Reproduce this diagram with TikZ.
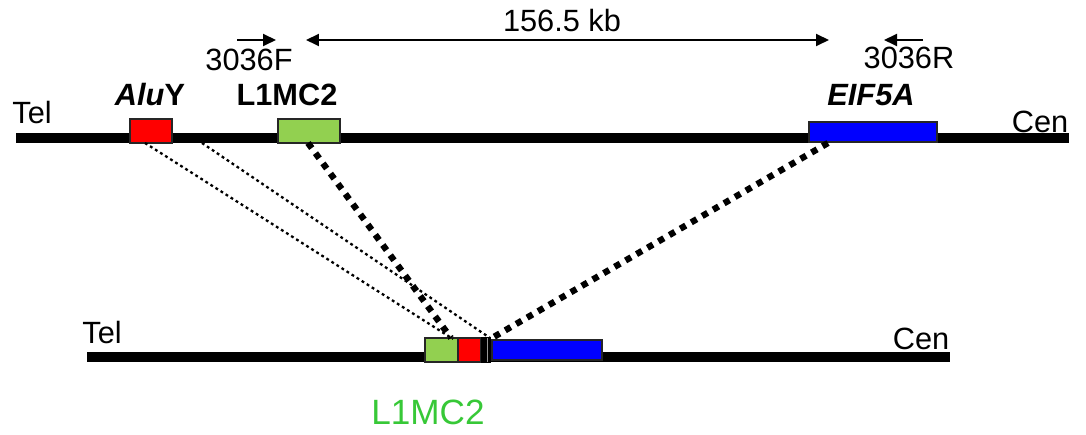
\documentclass[tikz,border=0pt]{standalone}
\usepackage{fontspec}
\setmainfont{Liberation Sans}
\usetikzlibrary{arrows.meta}

\definecolor{aluRed}{RGB}{255,0,0}
\definecolor{lineGreen}{RGB}{146,208,80}
\definecolor{eifBlue}{RGB}{0,0,255}
\definecolor{labelGreen}{RGB}{55,200,55}

\tikzset{
  gene/.style      = {draw=black!85, line width=0.9pt, inner sep=0pt, outer sep=0pt},
  chrom/.style     = {line width=0.2cm},
  label/.style     = {font=\fontsize{17.5}{20}\selectfont, inner sep=0pt},
  boldlabel/.style = {label, font=\fontsize{17.5}{20}\selectfont\bfseries},
  primer/.style    = {line width=1.1pt, -{Triangle[length=0.26cm, width=0.24cm]}},
  thinlink/.style  = {line width=1.3pt, dash pattern=on 1.6pt off 1.8pt},
  thicklink/.style = {line width=3.6pt, dash pattern=on 3.6pt off 3.6pt}
}

\begin{document}
\begin{tikzpicture}[x=0.02cm, y=-0.02cm]
\useasboundingbox (0,0) rectangle (1086,435);

% chromosomes
\coordinate (telA) at (16,138);
\coordinate (cenA) at (1069,138);
\coordinate (telB) at (87,357);
\coordinate (cenB) at (950,357);
\draw[chrom] (telA) -- (cenA);
\draw[chrom] (telB) -- (cenB);

% genes, upper
\node[gene, fill=aluRed, minimum width=0.84cm, minimum height=0.48cm] (aluA) at (151,131) {};
\node[gene, fill=lineGreen, minimum width=1.24cm, minimum height=0.48cm] (lineA) at (309,131) {};
\node[gene, fill=eifBlue, minimum width=2.56cm, minimum height=0.4cm] (eifA) at (873,132) {};

% genes, lower
\node[gene, fill=lineGreen, minimum width=0.66cm, minimum height=0.48cm] (lineB) at (441.5,350) {};
\node[gene, fill=aluRed, minimum width=0.46cm, minimum height=0.48cm] (aluB) at (469.5,350) {};
\node[gene, draw=black, fill=black, minimum width=0.16cm, minimum height=0.48cm] (joint) at (486,350) {};
\draw[black!40, line width=0.4pt] ([xshift=0.5pt]joint.north) -- ([xshift=0.5pt]joint.south);
\node[gene, fill=eifBlue, minimum width=2.2cm, minimum height=0.4cm] (eifB) at (547,350) {};

% link ends
\coordinate (aluOut) at (145,143);
\coordinate (aluIn) at (202,143);
\coordinate (lineTop) at (308,143);
\coordinate (eifTop) at (828,143);
\coordinate (aluOutB) at (453,339);
\coordinate (aluInB) at (490,338);
\coordinate (lineBot) at (451,338);
\coordinate (eifBot) at (492,338);

\draw[thinlink] (aluOut) -- (aluOutB);
\draw[thinlink] (aluIn) -- (aluInB);
\draw[thicklink] (lineTop) -- (lineBot);
\draw[thicklink] (eifTop) -- (eifBot);

% primers and distance
\coordinate (fwdS) at (237,40);
\coordinate (fwdE) at (276,40);
\coordinate (revS) at (923,40);
\coordinate (revE) at (884,40);
\coordinate (spanL) at (306,40);
\coordinate (spanR) at (829,40);
\draw[primer] (fwdS) -- (fwdE);
\draw[primer] (revS) -- (revE);
\draw[primer, {Triangle[length=0.26cm, width=0.24cm]}-{Triangle[length=0.26cm, width=0.24cm]}] (spanL) -- (spanR);

% labels
\node[label] (telTop) at (32,113) {Tel};
\node[label] (cenTop) at (1040,122) {Cen};
\node[label] (telBot) at (102,333) {Tel};
\node[label] (cenBot) at (921,339) {Cen};
\node[label] (fwd) at (249,60) {3036F};
\node[label] (rev) at (909,58) {3036R};
\node[label] (span) at (562,21) {156.5 kb};
\node[boldlabel] (aluName) at (150,95) {\textit{Alu}Y};
\node[boldlabel] (lineName) at (287,95) {L1MC2};
\node[boldlabel] (eifName) at (871,95) {\textit{EIF5A}};
\node[label, text=labelGreen, font=\fontsize{20}{24}\selectfont] (hybrid) at (428,412) {L1MC2};
\end{tikzpicture}
\end{document}
